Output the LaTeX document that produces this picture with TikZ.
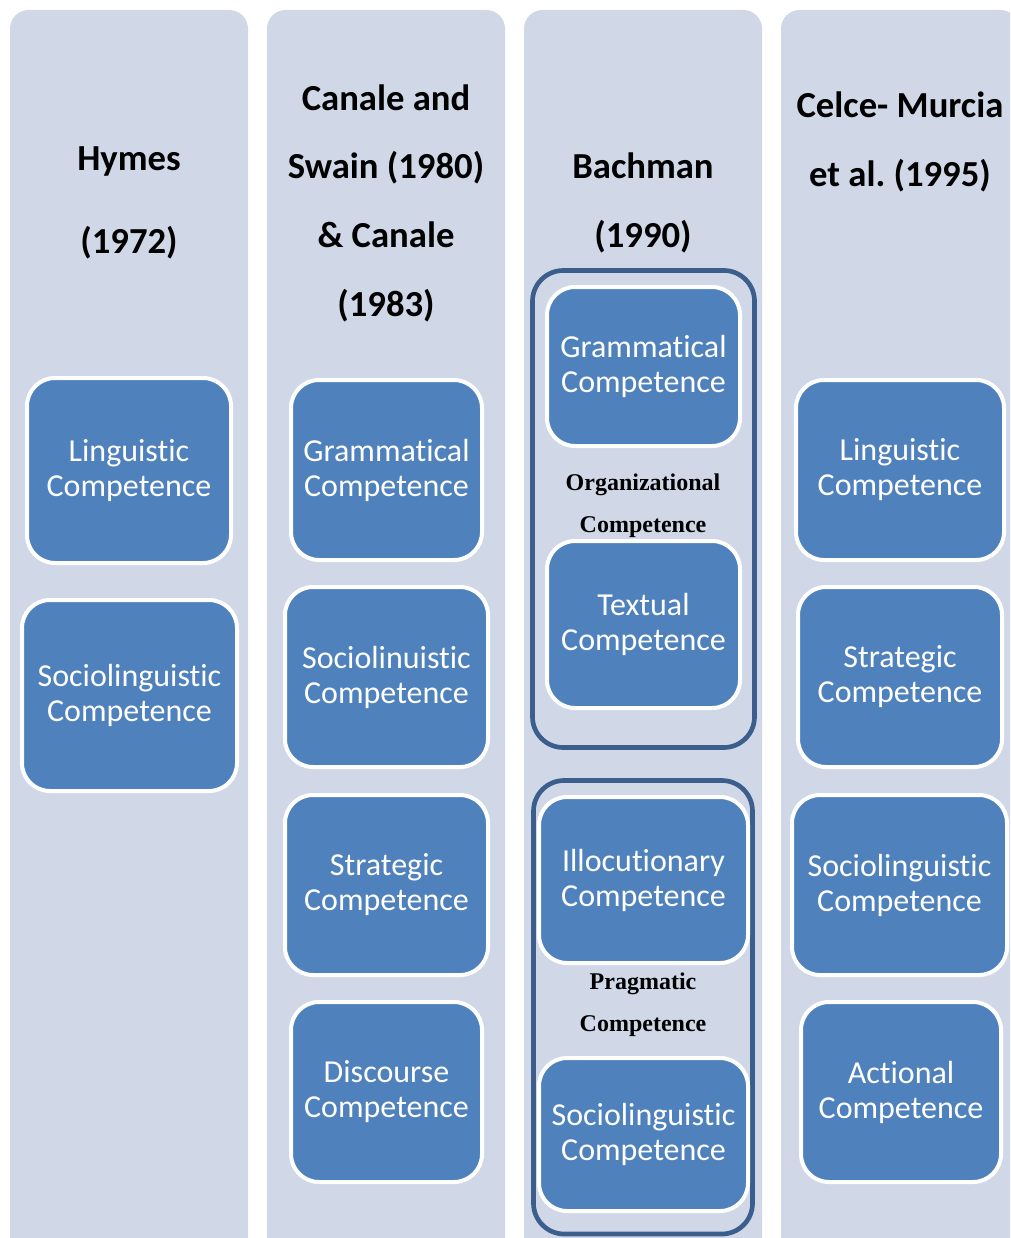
\documentclass[tikz,border=0pt]{standalone}
\usepackage{fontspec}
\setmainfont{Carlito}[Ligatures=NoCommon]
\newfontfamily\serifbold{Liberation Serif}
\frenchspacing

\definecolor{colbg}{RGB}{208,216,232}
\definecolor{boxblue}{RGB}{79,129,189}
\definecolor{framedark}{RGB}{59,94,140}

\tikzset{every picture/.style={line width=0.75pt}}
\tikzset{
  column/.style={fill=colbg, rounded corners=14pt},
  header/.style={align=center, inner sep=0pt, font=\bfseries\fontsize{27.5}{51.5}\selectfont},
  compbox/.style={draw=white, line width=3pt, fill=boxblue, rounded corners=21pt,
    text=white, align=center, inner sep=0pt, font=\fontsize{24}{26.3}\selectfont},
  groupframe/.style={draw=framedark, line width=3.5pt, rounded corners=23pt},
  grouplabel/.style={align=center, inner sep=0pt, font=\serifbold\bfseries\fontsize{18}{31.5}\selectfont}
}

\begin{document}
\begin{tikzpicture}[x=0.75pt,y=0.75pt,yscale=-1,xscale=1]
        \useasboundingbox (0,0) rectangle (1010,1238);
        \clip (0,0) rectangle (1010,1238);

        %Shape: Columns
        \fill [column] (10,10) rectangle (248,1270) ;
        \fill [column] (267,10) rectangle (505,1270) ;
        \fill [column] (524,10) rectangle (762,1270) ;
        \fill [column] (781,10) rectangle (1019,1270) ;

        % Text Node
        \node [header] (hymes) at (129,203) {Hymes\\[11pt](1972)};
        % Text Node
        \node [header] (canale) at (386,203) {Canale and\\Swain (1980)\\\& Canale\\(1983)};
        % Text Node
        \node [header] (bachman) at (643,203) {Bachman\\(1990)};
        % Text Node
        \node [header] (celce) at (900,142) {Celce- Murcia\\et al. (1995)};

        %Shape: Group frames
        \draw [groupframe] (532.5,270.5) rectangle (754.5,747.5) ;
        \draw [groupframe] (533.5,780.5) rectangle (752.5,1234) ;

        % Hymes
        \node [compbox, minimum width=153pt, minimum height=138.75pt] (hLing) at (129,470.5) {Linguistic\\Competence};
        \node [compbox, minimum width=161.25pt, minimum height=143.25pt] (hSocio) at (129.5,695.5) {Sociolinguistic\\Competence};

        % Canale and Swain
        \node [compbox, minimum width=143.25pt, minimum height=135pt] (csGram) at (386.5,470) {Grammatical\\Competence};
        \node [compbox, minimum width=152.25pt, minimum height=135pt] (csSocio) at (386.5,677) {Sociolinuistic\\Competence};
        \node [compbox, minimum width=152.25pt, minimum height=135pt] (csStrat) at (386.5,885) {Strategic\\Competence};
        \node [compbox, minimum width=143.25pt, minimum height=135pt] (csDisc) at (386.5,1092) {Discourse\\Competence};

        % Bachman
        \node [compbox, minimum width=144.75pt, minimum height=119.25pt] (bGram) at (643.5,366.5) {Grammatical\\Competence};
        \node [grouplabel] (bOrg) at (643,506) {Organizational\\Competence};
        \node [compbox, minimum width=144.75pt, minimum height=125.25pt] (bText) at (643.5,624.5) {Textual\\Competence};
        \node [compbox, minimum width=156.75pt, minimum height=124.5pt] (bIllo) at (643.5,880) {Illocutionary\\Competence};
        \node [grouplabel] (bPrag) at (643,1005) {Pragmatic\\Competence};
        \node [compbox, minimum width=156.75pt, minimum height=114.75pt] (bSocio) at (643.5,1134.5) {Sociolinguistic\\Competence};

        % Celce-Murcia et al.
        \node [compbox, minimum width=156pt, minimum height=135pt] (cmLing) at (900,470) {Linguistic\\Competence};
        \node [compbox, minimum width=153pt, minimum height=135pt] (cmStrat) at (900,677) {Strategic\\Competence};
        \node [compbox, minimum width=161.25pt, minimum height=135pt] (cmSocio) at (899.5,885) {Sociolinguistic\\Competence};
        \node [compbox, minimum width=150pt, minimum height=135pt] (cmAct) at (901,1092) {Actional\\Competence};

\end{tikzpicture}
\end{document}
